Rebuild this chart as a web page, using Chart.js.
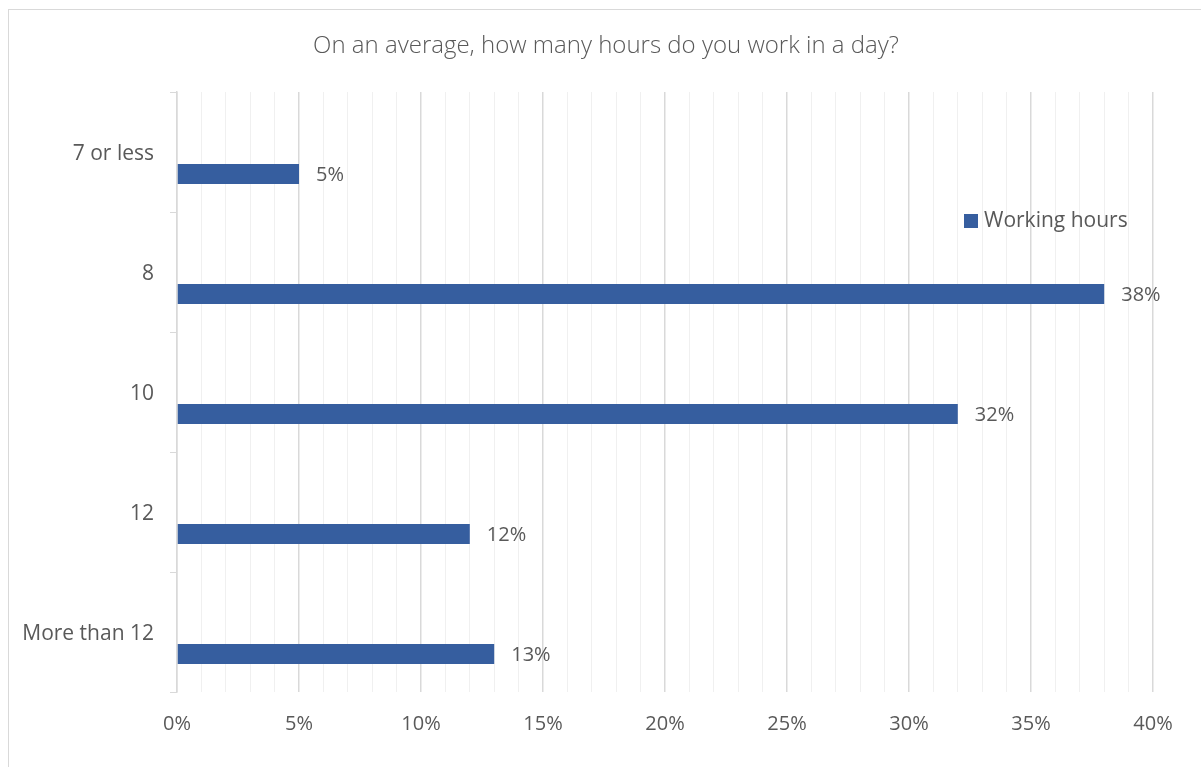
<!DOCTYPE html>
<html>
<head>
<meta charset="utf-8">
<script src="https://cdn.jsdelivr.net/npm/chart.js@4.4.1/dist/chart.umd.min.js"></script>
<style>
  body { margin: 0; background: #fff; }
  #wrap { position: relative; width: 1201px; height: 767px; overflow: hidden; }
  #frame { position: absolute; left: 8px; top: 9px; width: 1300px; height: 900px; border: 1px solid #d9d9d9; }
  canvas { position: absolute; left: 0; top: 0; }
</style>
</head>
<body>
<div id="wrap">
  <div id="frame"></div>
  <canvas id="myChart" width="1201" height="767"></canvas>
</div>
<script>
var categories = ['7 or less', '8', '10', '12', 'More than 12'];
var workingHours = [5, 38, 32, 12, 13];
var emptySeries = [null, null, null, null, null];
var tickValues = [0, 5, 10, 15, 20, 25, 30, 35, 40];

var FONT = '"Open Sans", "Liberation Sans", sans-serif';
var TEXT = '#595959';
var BLUE = '#365E9F';

var extras = {
  id: 'extras',
  afterDatasetsDraw: function (chart) {
    var ctx = chart.ctx;
    var meta = chart.getDatasetMeta(1);
    ctx.save();
    ctx.font = '20px ' + FONT;
    ctx.fillStyle = TEXT;
    ctx.textAlign = 'left';
    ctx.textBaseline = 'middle';
    meta.data.forEach(function (bar, i) {
      ctx.fillText(workingHours[i] + '%', bar.x + 17, bar.y + 1);
    });
    ctx.restore();
  },
  afterDraw: function (chart) {
    var ctx = chart.ctx;
    ctx.save();
    // title
    ctx.font = '300 24px ' + FONT;
    ctx.fillStyle = TEXT;
    ctx.textAlign = 'center';
    ctx.textBaseline = 'middle';
    ctx.fillText('On an average, how many hours do you work in a day?', 606, 46);
    // legend
    ctx.fillStyle = BLUE;
    ctx.fillRect(964, 214, 14, 14);
    ctx.font = '21px ' + FONT;
    ctx.fillStyle = TEXT;
    ctx.textAlign = 'left';
    ctx.fillText('Working hours', 984, 221);
    ctx.restore();
  }
};

new Chart(document.getElementById('myChart'), {
  type: 'bar',
  data: {
    labels: categories,
    datasets: [
      {
        label: '',
        data: emptySeries,
        backgroundColor: BLUE
      },
      {
        label: 'Working hours',
        data: workingHours,
        backgroundColor: BLUE
      }
    ]
  },
  options: {
    indexAxis: 'y',
    responsive: false,
    animation: false,
    categoryPercentage: 0.7333,
    barPercentage: 0.4545,
    layout: { padding: { left: 0, right: 48, top: 92, bottom: 0 } },
    plugins: {
      legend: { display: false },
      title: { display: false },
      tooltip: { enabled: false }
    },
    scales: {
      x: {
        min: 0,
        max: 40,
        afterFit: function (scale) { scale.height = 75; },
        afterBuildTicks: function (scale) {
          var t = [];
          for (var v = 0; v <= 40; v++) t.push({ value: v });
          scale.ticks = t;
        },
        ticks: {
          autoSkip: false,
          maxRotation: 0,
          padding: 20,
          color: TEXT,
          font: { family: FONT, size: 20 },
          callback: function (v) {
            return tickValues.indexOf(v) >= 0 ? v + '%' : '';
          }
        },
        grid: {
          drawTicks: false,
          color: function (c) {
            return c.tick && tickValues.indexOf(c.tick.value) >= 0 ? '#d9d9d9' : '#f0f0f0';
          },
          lineWidth: function (c) {
            return c.tick && tickValues.indexOf(c.tick.value) >= 0 ? 1.5 : 1;
          }
        },
        border: { display: false }
      },
      y: {
        afterFit: function (scale) { scale.width = 177; },
        ticks: {
          padding: 16,
          labelOffset: 2,
          color: TEXT,
          font: { family: FONT, size: 21 }
        },
        grid: {
          offset: true,
          drawOnChartArea: false,
          drawTicks: true,
          tickLength: 7,
          color: '#d9d9d9'
        },
        border: { display: true, color: '#d9d9d9', width: 1.5 }
      }
    }
  },
  plugins: [extras]
});
</script>
</body>
</html>
